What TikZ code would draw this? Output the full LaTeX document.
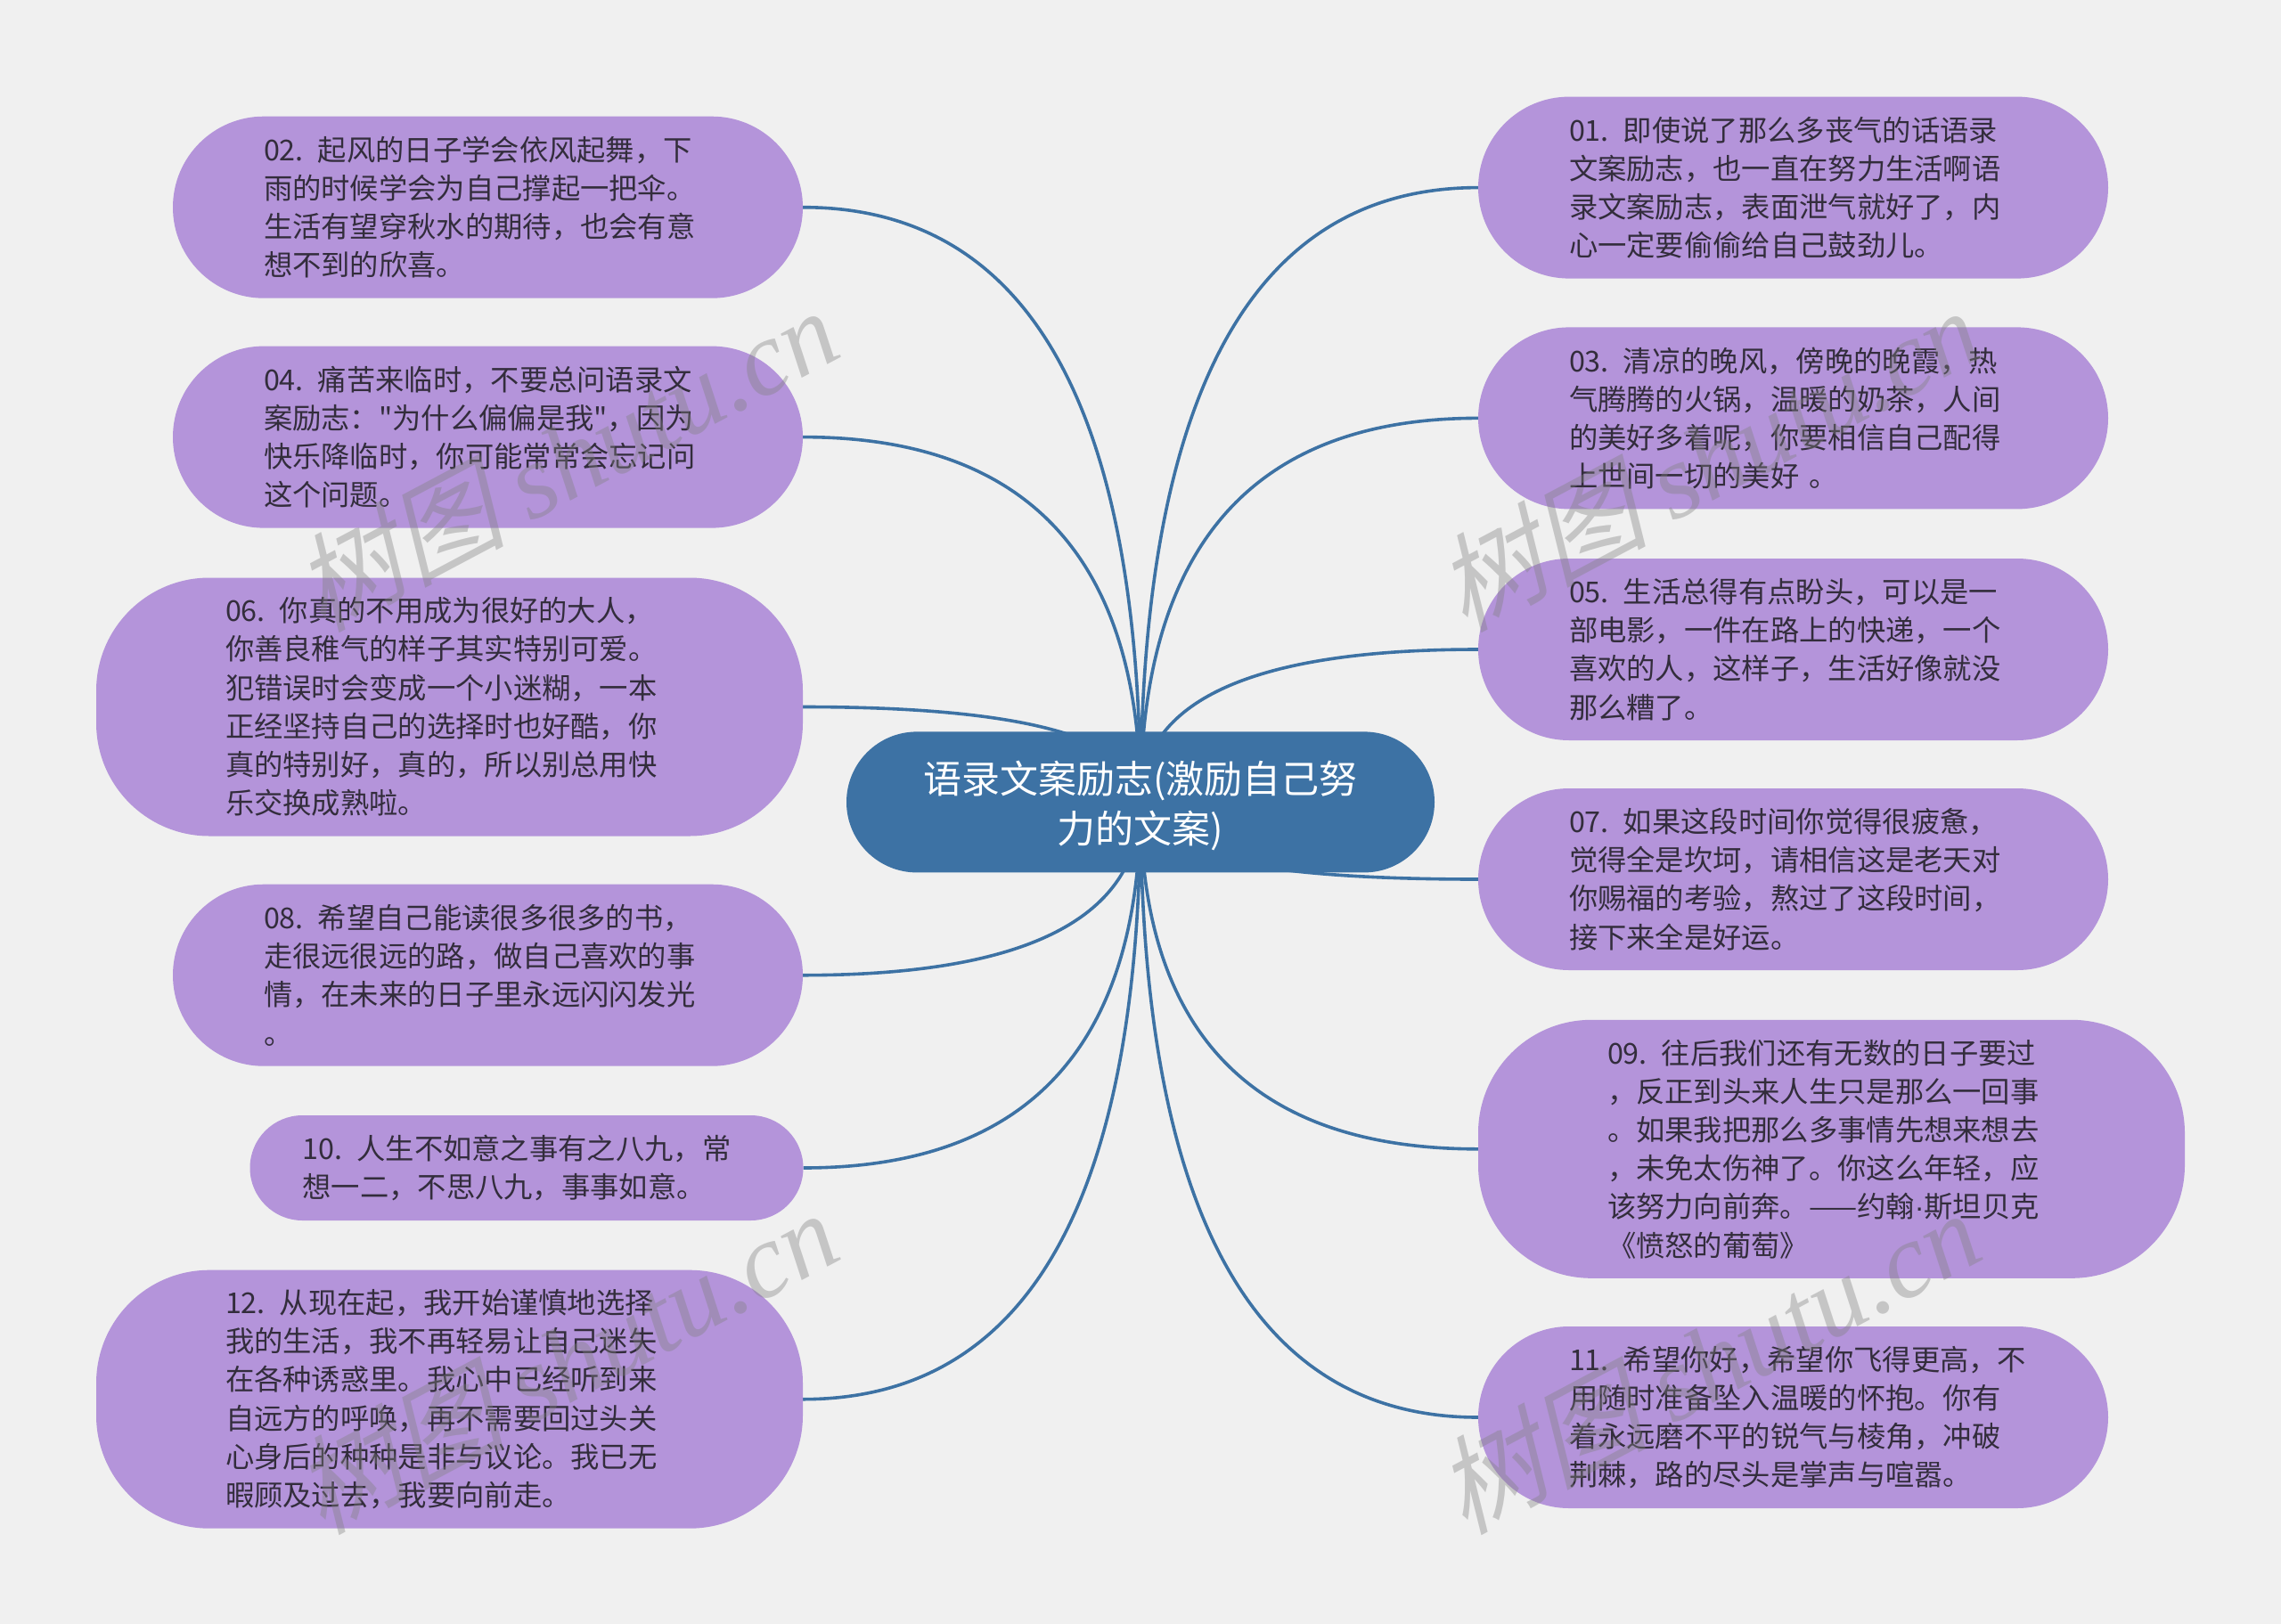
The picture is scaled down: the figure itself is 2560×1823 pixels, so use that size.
\documentclass[tikz,border=0pt]{standalone}
\usepackage{fontspec}
\newfontfamily\bodyfont[WordSpace=0.7,Numbers=Proportional]{Noto Sans CJK SC}
\newfontfamily\markcjk[FakeSlant=0.25]{Noto Sans CJK SC}
\newfontfamily\marklatin{Liberation Serif}
\newfontfamily\dotfont{Liberation Sans}
\usetikzlibrary{calc, backgrounds}
\definecolor{pagegray}{RGB}{240,240,240}
\definecolor{hubblue}{RGB}{61,114,164}
\definecolor{leafpurple}{RGB}{180,148,218}
\definecolor{leafink}{RGB}{51,45,60}

\begin{document}
\begin{tikzpicture}[x=1pt,y=-1pt,
  hub/.style={fill=hubblue,text=white,rounded corners=79pt,minimum width=660pt,minimum height=158pt,
    inner sep=0pt,align=center,font=\bodyfont\fontsize{43}{55.5}\selectfont},
  leaf/.style={fill=leafpurple,text=leafink,rounded corners=102pt,text width=503pt,inner xsep=102pt,inner ysep=0pt,
    minimum height=204pt,align=left,font=\bodyfont\fontsize{32.3}{43.2}\selectfont},
  wideleaf/.style={leaf,rounded corners=127pt,inner xsep=145pt,minimum height=290pt},
  thinleaf/.style={leaf,rounded corners=59pt,inner xsep=59pt,minimum height=118pt},
  link/.style={draw=hubblue,line width=3.6pt},
  stamp/.style={text=black!50,opacity=0.38,rotate=28,inner sep=0pt}]
% define the nodes on the right
  \node[hub] (hub) at (1280,900.4) {\rule{0pt}{1.03em}语录文案励志(激励自己努\\力的文案)};
  \node[leaf] (s01) at (2012.5,210.6) {01. 即使说了那么多丧气的话语录\\文案励志，也一直在努力生活啊语\\录文案励志，表面泄气就好了，内\\心一定要偷偷给自己鼓劲儿。};
  \node[leaf] (s03) at (2012.5,469.4) {03. 清凉的晚风，傍晚的晚霞，热\\气腾腾的火锅，温暖的奶茶，人间\\的美好多着呢，你要相信自己配得\\上世间一切的美好 。};
  \node[leaf] (s05) at (2012.5,729) {05. 生活总得有点盼头，可以是一\\部电影，一件在路上的快递，一个\\喜欢的人，这样子，生活好像就没\\那么糟了。};
  \node[leaf] (s07) at (2012.5,987) {07. 如果这段时间你觉得很疲惫，\\觉得全是坎坷，请相信这是老天对\\你赐福的考验，熬过了这段时间，\\接下来全是好运。};
  \node[wideleaf] (s09) at (2055.5,1289.8) {09. 往后我们还有无数的日子要过\\，反正到头来人生只是那么一回事\\。如果我把那么多事情先想来想去\\，未免太伤神了。你这么年轻，应\\\mbox{该努力向前奔。——约翰{\dotfont ·}斯坦贝克}\\《愤怒的葡萄》};
  \node[leaf] (s11) at (2012.5,1591) {11. 希望你好，希望你飞得更高，不\\用随时准备坠入温暖的怀抱。你有\\着永远磨不平的锐气与棱角，冲破\\荆棘，路的尽头是掌声与喧嚣。};
% define the nodes on the left
  \node[leaf] (s02) at (547.5,232.7) {02. 起风的日子学会依风起舞，下\\雨的时候学会为自己撑起一把伞。\\生活有望穿秋水的期待，也会有意\\想不到的欣喜。};
  \node[leaf] (s04) at (547.5,490.6) {04. 痛苦来临时，不要总问语录文\\案励志："为什么偏偏是我"，因为\\快乐降临时，你可能常常会忘记问\\这个问题。};
  \node[wideleaf] (s06) at (504.5,793.5) {06. 你真的不用成为很好的大人，\\你善良稚气的样子其实特别可爱。\\犯错误时会变成一个小迷糊，一本\\正经坚持自己的选择时也好酷，你\\真的特别好，真的，所以别总用快\\乐交换成熟啦。};
  \node[leaf] (s08) at (547.5,1094.7) {08. 希望自己能读很多很多的书，\\走很远很远的路，做自己喜欢的事\\情，在未来的日子里永远闪闪发光\\。};
  \node[thinleaf] (s10) at (591,1311) {10. 人生不如意之事有之八九，常\\想一二，不思八九，事事如意。};
  \node[wideleaf] (s12) at (504.5,1570.7) {12. 从现在起，我开始谨慎地选择\\我的生活，我不再轻易让自己迷失\\在各种诱惑里。我心中已经听到来\\自远方的呼唤，再不需要回过头关\\心身后的种种是非与议论。我已无\\暇顾及过去，我要向前走。};

% define the links
  \begin{pgfonlayer}{background}
    \fill[pagegray] (0,0) rectangle (2560,1823);
    \foreach \leafname/\side in {s01/west,s03/west,s05/west,s07/west,s09/west,s11/west,s02/east,s04/east,s06/east,s08/east,s10/east,s12/east}
      \path[link] (hub.center) .. controls ($(hub.center)!2/3!(hub.center |- \leafname.\side)$)
        and ($(\leafname.\side)!2/3!(hub.center |- \leafname.\side)$) .. (\leafname.\side);
  \end{pgfonlayer}

% define the stamps
  \foreach \stampname/\x/\y in {m1/634/515,m2/1916/515,m3/634/1528,m4/1916/1528}
    \node[stamp] (\stampname) at (\x,\y) {\fontsize{119}{119}\selectfont\markcjk 树图 \marklatin\itshape shutu.cn};
  \useasboundingbox (0,0) rectangle (2560,1823);
\end{tikzpicture}
\end{document}
